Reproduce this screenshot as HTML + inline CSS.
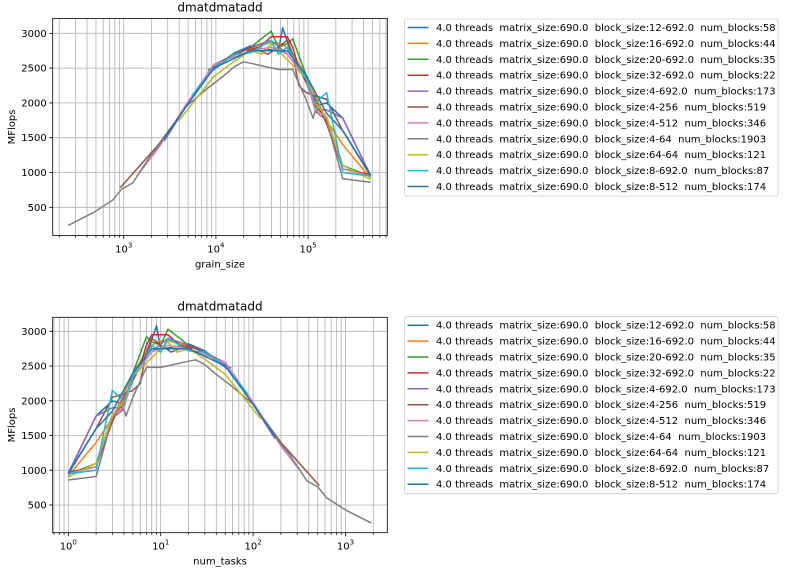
<!DOCTYPE html>
<html><head><meta charset="utf-8"><style>
html,body{margin:0;padding:0;background:#fff;}
svg{display:block;font-family:"DejaVu Sans","Liberation Sans",sans-serif;}
</style></head><body>
<svg id="fig" width="810" height="580" viewBox="0 0 810 580" xmlns="http://www.w3.org/2000/svg"></svg>
<script>
const colors = ["#1f77b4","#ff7f0e","#2ca02c","#d62728","#9467bd","#8c564b","#e377c2","#7f7f7f","#bcbd22","#17becf","#1f77b4"];
const seriesLabels = [
"4.0 threads  matrix_size:690.0  block_size:12-692.0  num_blocks:58",
"4.0 threads  matrix_size:690.0  block_size:16-692.0  num_blocks:44",
"4.0 threads  matrix_size:690.0  block_size:20-692.0  num_blocks:35",
"4.0 threads  matrix_size:690.0  block_size:32-692.0  num_blocks:22",
"4.0 threads  matrix_size:690.0  block_size:4-692.0  num_blocks:173",
"4.0 threads  matrix_size:690.0  block_size:4-256  num_blocks:519",
"4.0 threads  matrix_size:690.0  block_size:4-512  num_blocks:346",
"4.0 threads  matrix_size:690.0  block_size:4-64  num_blocks:1903",
"4.0 threads  matrix_size:690.0  block_size:64-64  num_blocks:121",
"4.0 threads  matrix_size:690.0  block_size:8-692.0  num_blocks:87",
"4.0 threads  matrix_size:690.0  block_size:8-512  num_blocks:174"];
const totalWork = 476100;
const s1Tasks=[1,2,3,4,5,7,9,10,15,20,30,45,58];
const s1Mf=[960,1780,2000,1950,2300,2650,3080,2750,2780,2820,2720,2550,2470];
const s2Tasks=[1,2,3,4,5,7,9,12,20,30,44];
const s2Mf=[920,1400,1750,2100,2400,2700,2850,2870,2780,2700,2580];
const s3Tasks=[1,2,3,4,5,7,8,10,12,20,35];
const s3Mf=[940,1100,1800,1950,2400,2920,2850,2800,3030,2800,2650];
const s4Tasks=[1,2,3,4,6,7,8,12,16,22];
const s4Mf=[970,1050,1700,2050,2500,2800,2950,2950,2800,2750];
const s5Tasks=[1,2,3,4,5,8,12,20,30,60,100,173];
const s5Mf=[950,1780,1900,1900,2350,2700,2900,2800,2700,2400,1950,1450];
const s6Tasks=[1,2,3,4,5,6,7,8,10,13,20,50,100,200,519];
const s6Mf=[950,1600,2050,2100,2150,2250,2700,2900,2800,2700,2800,2550,1950,1400,780];
const s7Tasks=[1,2,3,4,5,8,12,20,50,100,200,346];
const s7Mf=[950,1050,1800,1900,2350,2700,2800,2750,2550,1980,1350,940];
const s8Tasks=[1,2,3,4,4.2,5,7,10,20,24,30,40,60,100,200,250,380,500,630,1000,1903];
const s8Mf=[860,910,1750,1880,1780,2050,2480,2480,2570,2590,2520,2380,2200,1950,1380,1220,850,760,600,430,240];
const s9Tasks=[1,2,3,4,5,10,12,15,20,30,50,121];
const s9Mf=[900,1100,1800,2000,2350,2750,2850,2700,2750,2600,2380,1740];
const s10Tasks=[1,2,3,4,5,8,10,12,20,30,50,87];
const s10Mf=[950,1000,2150,2000,2350,2800,2700,2900,2720,2700,2500,2100];
const s11Tasks=[1,2,3,5,8,10,20,50,100,119,174];
const s11Mf=[960,1600,1850,2400,2750,2750,2750,2500,1950,1800,1480];
const allTasks=[s1Tasks,s2Tasks,s3Tasks,s4Tasks,s5Tasks,s6Tasks,s7Tasks,s8Tasks,s9Tasks,s10Tasks,s11Tasks];
const allMf=[s1Mf,s2Mf,s3Mf,s4Mf,s5Mf,s6Mf,s7Mf,s8Mf,s9Mf,s10Mf,s11Mf];
const yTicks=[500,1000,1500,2000,2500,3000];

const NS="http://www.w3.org/2000/svg";
const svg=document.getElementById('fig');
function mk(tag,attrs,parent){const e=document.createElementNS(NS,tag);for(const k in attrs)e.setAttribute(k,attrs[k]);(parent||svg).appendChild(e);return e;}

function chart(cfg){
  const g=mk('g',{});
  
  
  const L=52.7,R=387.3,T=cfg.top,B=cfg.bottom;
  const xs=v=>cfg.x0px+(Math.log10(v)-cfg.x0dec)*cfg.decade;
  const ys=v=>cfg.y3000+(3000-v)*(cfg.y500-cfg.y3000)/2500;
  const lo=Math.floor(cfg.x0dec-(cfg.x0px-L)/cfg.decade), hi=Math.ceil(cfg.x0dec+(R-cfg.x0px)/cfg.decade);
  // grid
  for(let d=lo;d<=hi;d++){for(let m=1;m<10;m++){const v=m*Math.pow(10,d);const x=xs(v);if(x<L||x>R)continue;
    const gl=mk('line',{x1:x,x2:x,y1:T,y2:B,stroke:'#b0b0b0','stroke-width':0.8},g);
    
    const tk=mk('line',{x1:x,x2:x,y1:B,y2:B+(m===1?3.5:2),stroke:'#000','stroke-width':0.8},g);
    
    if(m===1){const t=mk('text',{x:x,y:B+17,'font-size':10,'text-anchor':'middle',fill:'#000'},g);
      
      t.textContent='10';const s=mk('tspan',{dy:-5,'font-size':7},t);s.textContent=String(d);}
  }}
  yTicks.forEach(v=>{const y=ys(v);
    const gl=mk('line',{x1:L,x2:R,y1:y,y2:y,stroke:'#b0b0b0','stroke-width':0.8},g);
    
    mk('line',{x1:L-3.5,x2:L,y1:y,y2:y,stroke:'#000','stroke-width':0.8},g);
    const t=mk('text',{x:L-6,y:y+3.5,'font-size':10,'text-anchor':'end',fill:'#000'},g);
    
    t.textContent=String(v);});
  const cp=mk('clipPath',{id:cfg.name+'-clip'},g);mk('rect',{x:L,y:T,width:R-L,height:B-T},cp);
  const lg=mk('g',{'clip-path':'url(#'+cfg.name+'-clip)'},g);
  allTasks.forEach((tasks,i)=>{
    let pts=tasks.map((t,j)=>[cfg.xOf(t),allMf[i][j]]).sort((a,b)=>a[0]-b[0]);
    const p=mk('polyline',{points:pts.map(q=>xs(q[0]).toFixed(1)+','+ys(q[1]).toFixed(1)).join(' '),fill:'none',stroke:colors[i],'stroke-width':1.5,'stroke-linejoin':'round'},lg);
    
    
  });
  const fr=mk('rect',{x:L,y:T,width:R-L,height:B-T,fill:'none',stroke:'#000','stroke-width':0.8},g);
  
  const ti=mk('text',{x:(L+R)/2,y:T-7,'font-size':12,'text-anchor':'middle'},g);
  ti.textContent='dmatdmatadd';
  const xl=mk('text',{x:(L+R)/2,y:B+32,'font-size':10,'text-anchor':'middle'},g);
  xl.textContent=cfg.xlabel;
  const yl=mk('text',{x:0,y:0,'font-size':10,'text-anchor':'middle',transform:'translate(15,'+((T+B)/2)+') rotate(-90)'},g);
  yl.textContent='MFlops';
  // legend
  const lgd=mk('g',{},g);
  
  mk('rect',{x:404.5,y:cfg.legTop,width:373.5,height:177,fill:'#fff',stroke:'#ccc','stroke-width':0.8,rx:2},lgd);
  seriesLabels.forEach((lab,i)=>{const y=cfg.legTop+8.5+i*15.9;
    const e=mk('g',{},lgd);
    
    mk('line',{x1:407.5,x2:428.5,y1:y,y2:y,stroke:colors[i],'stroke-width':1.5},e);
    const t=mk('text',{x:436,y:y+3.5,'font-size':10,'xml:space':'preserve'},e);t.setAttribute('style','white-space:pre');t.textContent=lab;});
}
chart({name:'grain-size-chart',top:18.5,bottom:235.5,x0px:123.7,x0dec:3,decade:92.2,y3000:33.3,y500:207.3,xlabel:'grain_size',legTop:19,xOf:t=>totalWork/t});
chart({name:'num-tasks-chart',top:317.3,bottom:532.7,x0px:68.3,x0dec:0,decade:92.4,y3000:331.3,y500:505,xlabel:'num_tasks',legTop:316.7,xOf:t=>t});
</script>
</body></html>
